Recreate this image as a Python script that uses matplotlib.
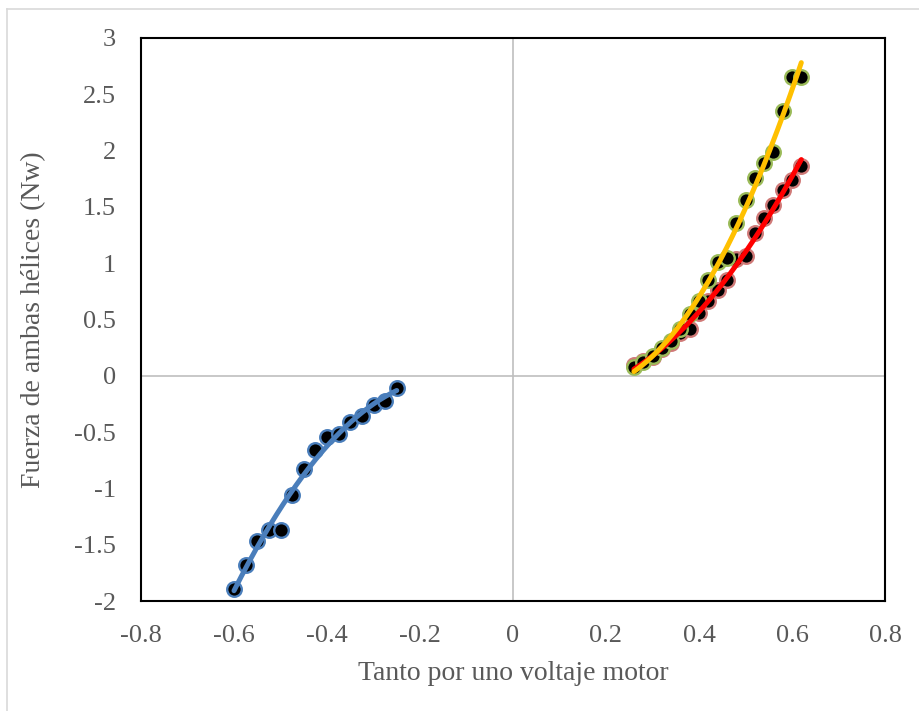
#!/usr/bin/env python3
# -*- coding: utf-8 -*-
"""
Fuerza de ambas helices frente a tanto por uno de voltaje del motor.
Tres series con linea de tendencia polinomica (orden 2).
"""

import matplotlib
matplotlib.use("Agg")
import matplotlib.pyplot as plt
import numpy as np

##! Datos:
#-- Serie negativa (azul)
xNeg = [-0.600, -0.575, -0.550, -0.525, -0.500, -0.475, -0.450, -0.425,
        -0.400, -0.375, -0.350, -0.325, -0.300, -0.275, -0.250]
yNeg = [-1.89, -1.68, -1.47, -1.37, -1.37, -1.06, -0.83, -0.66,
        -0.54, -0.52, -0.41, -0.36, -0.26, -0.22, -0.11]

#-- Series positivas (amarilla y roja)
xPos = [0.26, 0.28, 0.30, 0.32, 0.34, 0.36, 0.38, 0.40, 0.42, 0.44,
        0.46, 0.48, 0.50, 0.52, 0.54, 0.56, 0.58, 0.60, 0.62]
yAma = [0.08, 0.12, 0.18, 0.25, 0.31, 0.42, 0.55, 0.66, 0.85, 1.01,
        1.05, 1.36, 1.56, 1.76, 1.89, 1.99, 2.35, 2.65, 2.65]
yRoj = [0.10, 0.13, 0.17, 0.24, 0.29, 0.38, 0.42, 0.56, 0.66, 0.76,
        0.85, 1.04, 1.06, 1.27, 1.40, 1.52, 1.65, 1.74, 1.86]

xTicks = [-0.8, -0.6, -0.4, -0.2, 0, 0.2, 0.4, 0.6, 0.8]
yTicks = [-2, -1.5, -1, -0.5, 0, 0.5, 1, 1.5, 2, 2.5, 3]

xLabel = 'Tanto por uno voltaje motor'
yLabel = 'Fuerza de ambas hélices (Nw)'

plt.rcParams['font.family'] = ['Liberation Serif', 'DejaVu Serif']

fig = plt.figure(figsize=(9.19, 7.11), dpi=100)
ax = fig.add_axes([141/919, 110/711, 744/919, 563/711])

#-- Borde del area del grafico (estilo hoja de calculo)
fig.add_artist(plt.Line2D([7/919, 1.0], [1-9/711, 1-9/711],
                          color='#d9d9d9', lw=1.2, transform=fig.transFigure))
fig.add_artist(plt.Line2D([7/919, 7/919], [0.0, 1-9/711],
                          color='#d9d9d9', lw=1.2, transform=fig.transFigure))

ax.set_xlim(-0.8, 0.8)
ax.set_ylim(-2, 3)

#-- Ejes por el origen
ax.axhline(0, color='#bfbfbf', lw=1.2, zorder=1)
ax.axvline(0, color='#bfbfbf', lw=1.2, zorder=1)

series = [
    (xNeg, yNeg, '#4a7ebb', '#4a7ebb'),
    (xPos, yRoj, '#d07a78', '#ff0000'),
    (xPos, yAma, '#9bbb59', '#ffc000'),
]

for xs, ys, edge, lineCol in series:
    ax.plot(xs, ys, 'o', color='black', markersize=10.5,
            markeredgecolor=edge, markeredgewidth=1.7, zorder=3)

for xs, ys, edge, lineCol in series:
    c = np.polyfit(xs, ys, 2)
    xf = np.linspace(min(xs), max(xs), 200)
    ax.plot(xf, np.polyval(c, xf), '-', color=lineCol, lw=3.6,
            solid_capstyle='round', zorder=4)

ax.set_xticks(xTicks)
ax.set_xticklabels(['%g' % v for v in xTicks])
ax.set_yticks(yTicks)
ax.set_yticklabels(['%g' % v for v in yTicks])
ax.tick_params(axis='x', length=0, labelsize=19, labelcolor='#595959', pad=17)
ax.tick_params(axis='y', length=0, labelsize=19, labelcolor='#595959', pad=18)

for s in ax.spines.values():
    s.set_color('black')
    s.set_linewidth(1.5)

ax.set_xlabel(xLabel, fontsize=20, color='#595959', labelpad=10)
ax.set_ylabel(yLabel, fontsize=20, color='#595959', labelpad=20)

fig.savefig('out.png', dpi=100)
plt.close()
